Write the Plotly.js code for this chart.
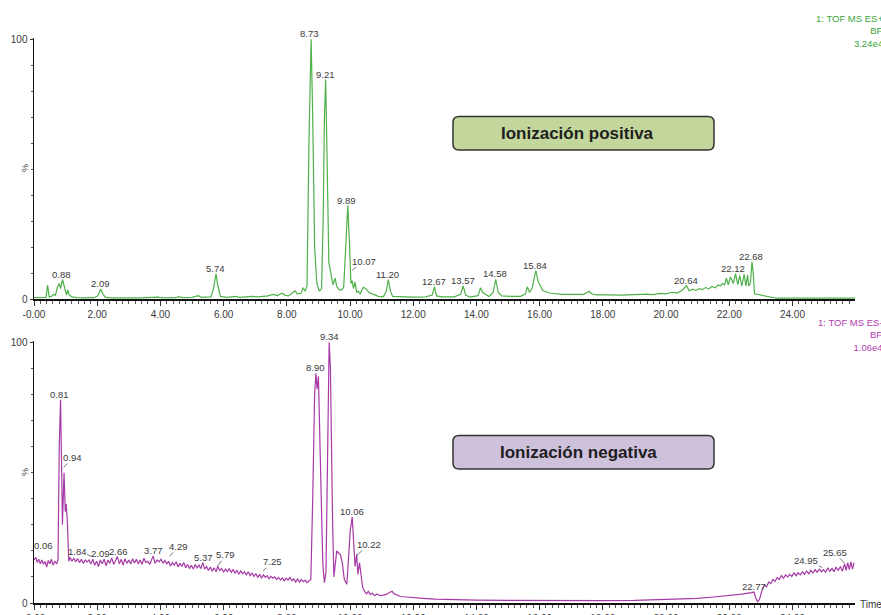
<!DOCTYPE html>
<html>
<head>
<meta charset="utf-8">
<script src="https://cdn.plot.ly/plotly-3.0.1.min.js"></script>
<style>html,body{margin:0;padding:0;background:#fff;overflow:hidden;}#chart{width:881px;height:615px;}</style>
</head>
<body>
<div id="chart"></div>
<script>
// ---------- DATA ----------
// Positive ionization (ES+) base peak chromatogram: time (min), relative intensity (%)
const posTime = [0.00,0.30,0.38,0.43,0.48,0.55,0.62,0.68,0.74,0.80,0.84,0.90,0.95,1.00,1.03,1.07,1.12,1.20,1.35,1.60,1.90,2.02,2.11,2.18,2.25,2.40,2.80,3.20,3.40,3.90,4.10,4.50,4.56,4.70,5.00,5.20,5.30,5.60,5.68,5.76,5.82,5.90,6.10,6.37,6.50,6.89,7.10,7.40,7.57,7.70,7.85,7.95,8.05,8.26,8.33,8.45,8.52,8.58,8.64,8.70,8.77,8.82,8.88,8.95,9.03,9.10,9.15,9.19,9.23,9.28,9.33,9.40,9.46,9.53,9.58,9.66,9.74,9.80,9.86,9.93,9.98,10.03,10.07,10.11,10.16,10.21,10.26,10.32,10.42,10.50,10.60,10.75,10.90,11.05,11.15,11.21,11.28,11.35,11.60,12.00,12.40,12.60,12.67,12.74,12.90,13.30,13.50,13.58,13.66,13.80,14.05,14.13,14.20,14.28,14.40,14.53,14.61,14.69,14.80,15.10,15.40,15.55,15.61,15.68,15.76,15.88,15.96,16.10,16.30,16.70,17.00,17.40,17.50,17.56,17.65,17.80,18.20,18.60,19.00,19.40,19.60,19.80,20.00,20.20,20.35,20.50,20.65,20.73,20.85,20.95,21.05,21.15,21.25,21.35,21.45,21.55,21.65,21.72,21.78,21.85,21.91,21.97,22.04,22.13,22.20,22.27,22.33,22.40,22.47,22.53,22.58,22.62,22.67,22.72,22.76,22.80,23.50,24.50,25.00,25.98];
const posInt  = [0.5,0.5,0.6,5.4,0.8,1.0,1.8,1.5,4.5,6.0,4.0,7.5,5.0,3.0,1.5,3.5,1.5,0.8,0.5,0.4,0.5,1.2,3.8,2.0,0.7,0.4,0.4,0.5,0.4,0.7,0.4,0.5,0.9,0.5,0.6,1.3,0.6,0.8,4.0,9.8,5.0,1.0,0.6,1.0,0.6,1.0,0.8,1.2,1.8,1.3,2.2,1.4,1.2,3.1,2.0,2.2,4.3,3.0,5.0,60,100,70,20,6,3.0,4.0,30,70,84.5,50,14,9.5,5.5,8.0,4.8,3.5,3.5,4.5,20,36,22,6,7.0,4.0,6.5,2.5,3.0,2.0,4.5,4.0,2.5,1.8,1.0,0.8,3.0,7.5,3.0,1.0,0.8,0.7,0.8,1.5,4.7,1.2,0.8,0.8,1.8,5.0,1.5,0.7,1.3,4.3,2.5,1.8,1.0,2.5,7.6,2.5,1.2,1.0,1.0,2.0,4.7,2.5,4.0,10.9,6.5,3.3,2.3,1.8,1.9,1.8,2.5,3.0,2.0,1.6,1.6,1.5,1.7,1.9,1.7,2.2,2.0,2.6,2.3,3.3,5.1,3.2,3.8,3.3,4.0,3.6,4.4,3.9,4.8,4.3,5.4,5.0,6.0,5.5,8.0,5.5,8.5,6.0,9.8,5.5,9.0,5.0,9.5,5.0,9.3,5.0,6.0,14.3,10.0,2.0,0.3,0.3,0.3,0.3,0.3];

// Negative ionization (ES-) base peak chromatogram
const negTime = [0.00,0.06,0.10,0.15,0.20,0.25,0.30,0.35,0.40,0.45,0.50,0.55,0.60,0.66,0.72,0.76,0.80,0.84,0.87,0.90,0.95,0.99,1.02,1.06,1.10,1.14,1.20,1.26,1.32,1.38,1.44,1.50,1.56,1.62,1.68,1.74,1.80,1.86,1.92,1.98,2.04,2.10,2.16,2.22,2.28,2.34,2.40,2.46,2.52,2.58,2.64,2.70,2.76,2.82,2.88,2.94,3.00,3.06,3.12,3.18,3.24,3.30,3.36,3.42,3.48,3.54,3.60,3.66,3.72,3.77,3.83,3.90,3.96,4.02,4.08,4.14,4.20,4.26,4.32,4.38,4.44,4.50,4.56,4.62,4.68,4.74,4.80,4.86,4.92,4.98,5.04,5.10,5.16,5.22,5.28,5.34,5.40,5.46,5.52,5.58,5.64,5.70,5.76,5.82,5.88,5.94,6.00,6.06,6.12,6.18,6.24,6.30,6.36,6.42,6.48,6.54,6.60,6.66,6.72,6.78,6.84,6.90,6.96,7.02,7.08,7.14,7.20,7.26,7.32,7.38,7.44,7.50,7.56,7.62,7.68,7.74,7.80,7.86,7.92,7.98,8.04,8.10,8.16,8.22,8.28,8.34,8.40,8.46,8.52,8.58,8.64,8.70,8.76,8.82,8.88,8.92,8.96,9.00,9.04,9.09,9.14,9.19,9.24,9.30,9.34,9.38,9.41,9.45,9.49,9.53,9.58,9.65,9.70,9.76,9.82,9.90,9.96,10.01,10.07,10.12,10.16,10.21,10.25,10.30,10.35,10.40,10.46,10.52,10.58,10.64,10.70,10.78,10.86,10.95,11.05,11.15,11.25,11.33,11.40,11.50,11.60,11.80,12.00,12.30,12.70,13.20,14.00,15.00,16.00,17.00,18.00,19.00,20.00,20.50,21.00,21.50,22.00,22.40,22.70,22.78,22.84,22.90,22.96,23.05,23.12,23.18,23.25,23.32,23.38,23.45,23.52,23.58,23.65,23.72,23.78,23.85,23.92,23.98,24.05,24.12,24.18,24.25,24.32,24.38,24.45,24.52,24.58,24.65,24.72,24.78,24.85,24.92,24.98,25.05,25.12,25.18,25.25,25.32,25.38,25.45,25.52,25.58,25.65,25.70,25.75,25.80,25.85,25.90,25.95];
const negInt  = [16.5,17.5,15.5,16.8,15.0,16.5,14.8,16.0,13.8,16.3,15.0,16.8,14.5,16.0,15.0,16.5,60,78,55,30,50,35,38,30,16,17.5,16.0,17.2,15.8,17.0,15.5,16.8,15.2,16.5,15.8,16.5,15.0,16.8,14.5,16.0,14.0,16.5,15.0,16.8,14.3,16.5,15.2,17.3,14.8,16.2,17.8,15.0,16.8,14.5,17.0,15.2,16.5,15.0,17.0,15.3,16.8,15.0,16.5,14.8,17.2,15.5,16.0,14.8,16.5,18.0,15.3,16.5,15.8,16.8,15.2,16.3,15.0,16.0,14.2,15.5,14.5,15.8,13.8,15.2,14.0,15.5,13.5,14.8,13.2,14.5,13.0,14.8,13.5,14.5,13.2,15.5,13.0,14.0,12.5,13.8,12.2,13.5,12.0,14.0,12.5,13.2,11.8,13.0,12.0,13.2,11.8,12.8,11.5,12.5,11.0,12.3,11.2,12.0,10.8,12.0,10.5,11.5,10.2,11.3,9.8,11.0,9.5,10.8,9.8,10.5,9.3,10.2,9.5,10.0,9.0,9.8,8.8,9.6,8.5,9.5,8.8,9.8,8.5,9.3,8.0,9.2,8.0,9.0,8.2,8.8,7.8,8.5,9.0,40,80,88,82,87,70,40,15,7.8,12,75,100,90,60,30,10,16,20,19,18.5,15,9,7.2,18,28,33,24,14,18.7,11,15.5,10,6,4.5,3.5,4.5,3.2,3.8,2.8,3.5,2.8,3.0,3.3,4.0,4.5,3.5,3.0,2.5,2.3,2.0,1.8,1.5,1.3,1.1,1.0,0.9,0.8,0.9,1.0,1.3,1.5,1.8,2.3,2.8,3.4,4.0,4.2,2.0,0.4,1.5,5.5,6.8,6.2,8.0,7.5,9.0,8.3,9.8,9.0,10.5,9.5,10.8,10.0,11.0,10.2,11.5,10.5,11.6,10.8,12.0,11.0,12.3,11.2,12.5,11.5,12.8,11.8,13.0,12.0,12.8,11.8,13.5,12.2,13.2,12.0,13.8,12.5,14.0,12.2,15.0,12.5,15.5,12.8,15.8,13.0,15.5];

// Peak labels (retention time text) and the intensity they point at
const posLabels = ['0.88','2.09','5.74','8.73','9.21','9.89','10.07','11.20','12.67','13.57','14.58','15.84','20.64','22.12','22.68'];
const posLabelInt = [7.5,3.8,9.8,100,84.5,36,11.1,7.5,4.7,5.0,7.6,10.9,5.1,9.8,14.3];
const negLabels = ['0.06','0.81','0.94','1.84','2.09','2.66','3.77','4.29','5.37','5.79','7.25','8.90','9.34','10.06','10.22','22.77','24.95','25.65'];
const negLabelInt = [19.8,78,52,17.9,17.0,17.8,18.0,17.9,15.5,13.9,12.3,88.3,100,33,18.3,4.2,13.6,15.2];

const xTickVals = [0,2,4,6,8,10,12,14,16,18,20,22,24];
const xTickText = ['-0.00','2.00','4.00','6.00','8.00','10.00','12.00','14.00','16.00','18.00','20.00','22.00','24.00'];
const yTickVals = [0,100];
const yTickText = ['0','100'];

const posHeader = ['1: TOF MS ES+','BP','3.24e4'];
const negHeader = ['1: TOF MS ES-','BP','1.06e4'];
const posBoxText = 'Ionización positiva';
const negBoxText = 'Ionización negativa';

// ---------- STYLE / LAYOUT ----------
const W = 881, H = 615;
const M = {l:34, r:26, t:38, b:12};
const PW = W - M.l - M.r, PH = H - M.t - M.b;
const px2x = p => (p - M.l) / PW;
const py2y = p => (H - M.b - p) / PH;

const GREEN = '#4fb14a';
const PURPLE = '#a63aa6';
const FONT = 'Liberation Sans, Arial, sans-serif';

// leader-line offsets (pixels: text centre relative to the pointed spot)
const posLeaders = {'10.07':[12,-9]};
const negLeaders = {'0.06':[8,-6],'0.94':[9,-10],'1.84':[-15,-5],'4.29':[9,-10],'5.79':[9,-12],'7.25':[9,-9],'10.22':[12,-11],'24.95':[-16,-7],'25.65':[-10,-11]};

function xAxis(anchor){
  return {
    domain:[0,1], range:[0,25.98], anchor:anchor,
    tickmode:'array', tickvals:xTickVals, ticktext:xTickText,
    ticks:'outside', ticklen:5, tickwidth:1, tickcolor:'#333',
    minor:{tickmode:'linear', tick0:0, dtick:0.2, ticks:'outside', ticklen:3, tickwidth:1, tickcolor:'#555'},
    showline:true, linecolor:'#111', linewidth:2,
    showgrid:false, zeroline:false,
    tickfont:{family:FONT, size:10, color:'#3a3a3a'}
  };
}
function yAxis(domain, anchor){
  return {
    domain:domain, range:[0,100.5], anchor:anchor,
    tickmode:'array', tickvals:yTickVals, ticktext:yTickText,
    ticks:'outside', ticklen:3, tickwidth:1, tickcolor:'#333',
    minor:{tickmode:'linear', tick0:0, dtick:10, ticks:'outside', ticklen:2, tickwidth:1, tickcolor:'#555'},
    showline:true, linecolor:'#111', linewidth:1.5,
    showgrid:false, zeroline:false,
    tickfont:{family:FONT, size:10, color:'#3a3a3a'}
  };
}

function labelAnns(labels, ints, xref, yref, leaders){
  return labels.map((lab,i)=>{
    const t = parseFloat(lab);
    const base = {x:t, y:ints[i], xref:xref, yref:yref, text:lab,
      font:{family:FONT, size:9.5, color:'#3a3a3a'}};
    if (leaders[lab]) {
      return Object.assign(base, {showarrow:true, arrowhead:0, arrowwidth:0.8, arrowcolor:'#555',
        ax:leaders[lab][0], ay:leaders[lab][1], standoff:0, borderpad:0});
    }
    return Object.assign(base, {showarrow:false, xanchor:'center', yanchor:'bottom', yshift:-1, borderpad:0});
  });
}

function roundRect(x0p, y0p, x1p, y1p, r){
  const X = p => px2x(p).toFixed(5), Y = p => py2y(p).toFixed(5);
  return 'M' + X(x0p+r) + ',' + Y(y0p) +
    ' L' + X(x1p-r) + ',' + Y(y0p) + ' Q' + X(x1p) + ',' + Y(y0p) + ' ' + X(x1p) + ',' + Y(y0p+r) +
    ' L' + X(x1p) + ',' + Y(y1p-r) + ' Q' + X(x1p) + ',' + Y(y1p) + ' ' + X(x1p-r) + ',' + Y(y1p) +
    ' L' + X(x0p+r) + ',' + Y(y1p) + ' Q' + X(x0p) + ',' + Y(y1p) + ' ' + X(x0p) + ',' + Y(y1p-r) +
    ' L' + X(x0p) + ',' + Y(y0p+r) + ' Q' + X(x0p) + ',' + Y(y0p) + ' ' + X(x0p+r) + ',' + Y(y0p) + ' Z';
}

const topDomain = [py2y(299), 1];
const botDomain = [0, py2y(341)];

const traces = [
  {x:posTime, y:posInt, xaxis:'x', yaxis:'y', type:'scatter', mode:'lines',
   line:{color:GREEN, width:1.2}, hoverinfo:'skip'},
  {x:negTime, y:negInt, xaxis:'x2', yaxis:'y2', type:'scatter', mode:'lines',
   line:{color:PURPLE, width:1.2}, hoverinfo:'skip'}
];

const annotations = []
  .concat(labelAnns(posLabels, posLabelInt, 'x', 'y', posLeaders))
  .concat(labelAnns(negLabels, negLabelInt, 'x2', 'y2', negLeaders))
  .concat([
    {xref:'paper', yref:'paper', x:px2x(885), y:py2y(31), xanchor:'right', yanchor:'middle', align:'right',
     text:posHeader.join('<br>'), showarrow:false, font:{family:FONT, size:9.5, color:'#3aa63a'}},
    {xref:'paper', yref:'paper', x:px2x(885), y:py2y(335), xanchor:'right', yanchor:'middle', align:'right',
     text:negHeader.join('<br>'), showarrow:false, font:{family:FONT, size:9.5, color:'#b03cb0'}},
    {xref:'paper', yref:'paper', x:px2x(25), y:py2y(168), xanchor:'center', yanchor:'middle', text:'%', textangle:-90, showarrow:false,
     font:{family:FONT, size:9, color:'#3a3a3a'}},
    {xref:'paper', yref:'paper', x:px2x(25), y:py2y(472), xanchor:'center', yanchor:'middle', text:'%', textangle:-90, showarrow:false,
     font:{family:FONT, size:9, color:'#3a3a3a'}},
    {xref:'paper', yref:'paper', x:px2x(858), y:py2y(604), xanchor:'left', yanchor:'middle', text:'Time',
     showarrow:false, font:{family:FONT, size:10, color:'#3a3a3a'}},
    {xref:'paper', yref:'paper', x:px2x(577), y:py2y(133), xanchor:'center', yanchor:'middle', text:'<b>'+posBoxText+'</b>', showarrow:false,
     font:{family:FONT, size:17, color:'#1e1e1e'}},
    {xref:'paper', yref:'paper', x:px2x(578), y:py2y(452), xanchor:'center', yanchor:'middle', text:'<b>'+negBoxText+'</b>', showarrow:false,
     font:{family:FONT, size:17, color:'#1e1e1e'}}
  ]);

const shapes = [
  {type:'path', xref:'paper', yref:'paper', path:roundRect(453,116.5,714,150,6),
   fillcolor:'#c3d69b', line:{color:'#333', width:1.5}, layer:'above'},
  {type:'path', xref:'paper', yref:'paper', path:roundRect(453,435.5,714,469,6),
   fillcolor:'#cdc1dc', line:{color:'#333', width:1.5}, layer:'above'}
];

const layout = {
  width:W, height:H, margin:M, showlegend:false,
  paper_bgcolor:'#ffffff', plot_bgcolor:'#ffffff',
  xaxis:xAxis('y'), yaxis:yAxis(topDomain,'x'),
  xaxis2:xAxis('y2'), yaxis2:yAxis(botDomain,'x2'),
  annotations:annotations, shapes:shapes,
  font:{family:FONT}
};

Plotly.newPlot('chart', traces, layout, {staticPlot:true, displayModeBar:false});
</script>
</body>
</html>
